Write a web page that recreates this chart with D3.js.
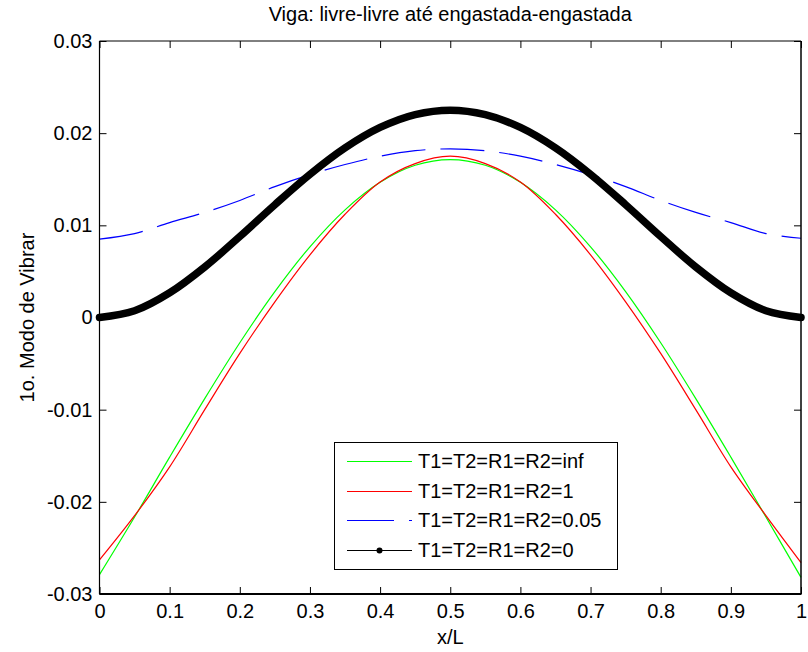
<!DOCTYPE html>
<html>
<head>
<meta charset="utf-8">
<script src="https://cdn.jsdelivr.net/npm/d3@7"></script>
<style>
  html, body { margin: 0; padding: 0; background: #fff; }
  svg { display: block; }
  text { font-family: "Liberation Sans", Arial, Helvetica, sans-serif; }
</style>
</head>
<body>
<svg id="chart" width="808" height="652"></svg>
<script>
// ---------- data ----------
const xPos = [0, 0.05, 0.1, 0.15, 0.2, 0.25, 0.3, 0.35, 0.4, 0.45, 0.5,
              0.55, 0.6, 0.65, 0.7, 0.75, 0.8, 0.85, 0.9, 0.95, 1];
const seriesInf = [-0.0279, -0.02165, -0.01515, -0.0088, -0.00274, 0.00281, 0.00767, 0.01168, 0.01467, 0.01652, 0.01714,
                   0.01652, 0.01467, 0.01168, 0.00767, 0.00281, -0.00274, -0.0088, -0.01515, -0.02165, -0.0282];
const seriesOne = [-0.0263, -0.0215, -0.0162, -0.0100, -0.0039, 0.0017, 0.0068, 0.0112, 0.0147, 0.0167, 0.0175,
                   0.0167, 0.0147, 0.0112, 0.0068, 0.0017, -0.0039, -0.0100, -0.0162, -0.0215, -0.0266];
const seriesPt05 = [0.0085, 0.0091, 0.0103, 0.0114, 0.0127, 0.0142, 0.0155, 0.0166, 0.0175, 0.0181, 0.0183,
                    0.0181, 0.0175, 0.0166, 0.0155, 0.0142, 0.0127, 0.0114, 0.0103, 0.0091, 0.0086];
const seriesZero = [0, 0.00073, 0.00268, 0.00548, 0.00879, 0.01224, 0.01553, 0.0184, 0.02062, 0.02202, 0.0225,
                    0.02202, 0.02062, 0.0184, 0.01553, 0.01224, 0.00879, 0.00548, 0.00268, 0.00073, 0];
const seriesNames = ["T1=T2=R1=R2=inf", "T1=T2=R1=R2=1", "T1=T2=R1=R2=0.05", "T1=T2=R1=R2=0"];
const xTicks = [0, 0.1, 0.2, 0.3, 0.4, 0.5, 0.6, 0.7, 0.8, 0.9, 1];
const xTickLabels = ["0", "0.1", "0.2", "0.3", "0.4", "0.5", "0.6", "0.7", "0.8", "0.9", "1"];
const yTicks = [-0.03, -0.02, -0.01, 0, 0.01, 0.02, 0.03];
const yTickLabels = ["-0.03", "-0.02", "-0.01", "0", "0.01", "0.02", "0.03"];
const titleText = "Viga: livre-livre até engastada-engastada";
const xLabelText = "x/L";
const yLabelText = "1o. Modo de Vibrar";

// ---------- layout ----------
const L = 99.5, R = 801, T = 41, B = 594;
const FS = 20;
const svg = d3.select("#chart");
const x = d3.scaleLinear().domain([0, 1]).range([L, R]);
const y = d3.scaleLinear().domain([-0.03, 0.03]).range([B, T]);

svg.append("rect").attr("width", 808).attr("height", 652).attr("fill", "#fff");

const styles = [
  { data: seriesInf, color: "#00ff00", width: 1.2, dash: null },
  { data: seriesOne, color: "#ff0000", width: 1.2, dash: null },
  { data: seriesPt05, color: "#0000ff", width: 1.2, dash: "44,15" },
  { data: seriesZero, color: "#000000", width: 7.5, dash: null }
];

const line = d3.line().x((d, i) => x(xPos[i])).y(d => y(d)).curve(d3.curveCatmullRom.alpha(0.5));

const plot = svg.append("g");
styles.forEach(s => {
  const p = plot.append("path")
    .attr("d", line(s.data))
    .attr("fill", "none")
    .attr("stroke", s.color)
    .attr("stroke-width", s.width)
    .attr("stroke-linecap", s.width > 2 ? "round" : "butt")
    .attr("stroke-linejoin", "round");
  if (s.dash) p.attr("stroke-dasharray", s.dash);
});

// ---------- axes ----------
function styleAxis(g) {
  g.attr("font-size", FS).attr("font-family", "Liberation Sans, Arial, sans-serif");
  g.selectAll(".domain").remove();
  g.selectAll(".tick line").attr("stroke", "#000");
  g.selectAll(".tick text").attr("fill", "#000");
}
svg.append("g").attr("transform", `translate(0,${B})`)
  .call(d3.axisBottom(x).tickValues(xTicks).tickFormat((d, i) => xTickLabels[i]).tickSize(-7).tickPadding(10))
  .call(styleAxis);
svg.append("g").attr("transform", `translate(0,${T})`)
  .call(d3.axisTop(x).tickValues(xTicks).tickFormat("").tickSize(-7))
  .call(styleAxis);
svg.append("g").attr("transform", `translate(${L},0)`)
  .call(d3.axisLeft(y).tickValues(yTicks).tickFormat((d, i) => yTickLabels[i]).tickSize(-7).tickPadding(7))
  .call(styleAxis);
svg.append("g").attr("transform", `translate(${R},0)`)
  .call(d3.axisRight(y).tickValues(yTicks).tickFormat("").tickSize(-7))
  .call(styleAxis);

// box
svg.append("line").attr("x1", L).attr("x2", R).attr("y1", T).attr("y2", T).attr("stroke", "#000").attr("stroke-width", 1);
svg.append("line").attr("x1", L).attr("x2", L).attr("y1", T).attr("y2", B).attr("stroke", "#000").attr("stroke-width", 1.2);
svg.append("line").attr("x1", L).attr("x2", R + 0.5).attr("y1", B).attr("y2", B).attr("stroke", "#000").attr("stroke-width", 2);
svg.append("line").attr("x1", R).attr("x2", R).attr("y1", T).attr("y2", B).attr("stroke", "#000").attr("stroke-width", 1.5);

// ---------- labels ----------
svg.append("text").attr("x", (L + R) / 2).attr("y", 21).attr("text-anchor", "middle")
  .attr("font-size", FS).text(titleText);
svg.append("text").attr("x", (L + R) / 2).attr("y", 644).attr("text-anchor", "middle")
  .attr("font-size", FS).text(xLabelText);
svg.append("text").attr("transform", `translate(34,${(T + B) / 2}) rotate(-90)`)
  .attr("text-anchor", "middle").attr("font-size", FS).text(yLabelText);

// ---------- legend ----------
const lg = svg.append("g");
lg.append("rect").attr("x", 334.5).attr("y", 442.5).attr("width", 283).attr("height", 127)
  .attr("fill", "#fff").attr("stroke", "#000").attr("stroke-width", 1);
const legendColors = ["#00ff00", "#ff0000", "#0000ff", "#000000"];
const legendDash = [null, null, "47,15", null];
seriesNames.forEach((name, i) => {
  const yy = Math.round(461 + i * 29.5) + 0.5;
  const ln = lg.append("line").attr("x1", 347).attr("x2", 412).attr("y1", yy).attr("y2", yy)
    .attr("stroke", legendColors[i]).attr("stroke-width", 1.2);
  if (legendDash[i]) ln.attr("stroke-dasharray", legendDash[i]);
  if (i === 3) {
    lg.append("circle").attr("cx", 379.5).attr("cy", yy).attr("r", 3).attr("fill", "#000");
  }
  lg.append("text").attr("x", 418).attr("y", yy + 6.5).attr("font-size", FS).text(name);
});
</script>
</body>
</html>
